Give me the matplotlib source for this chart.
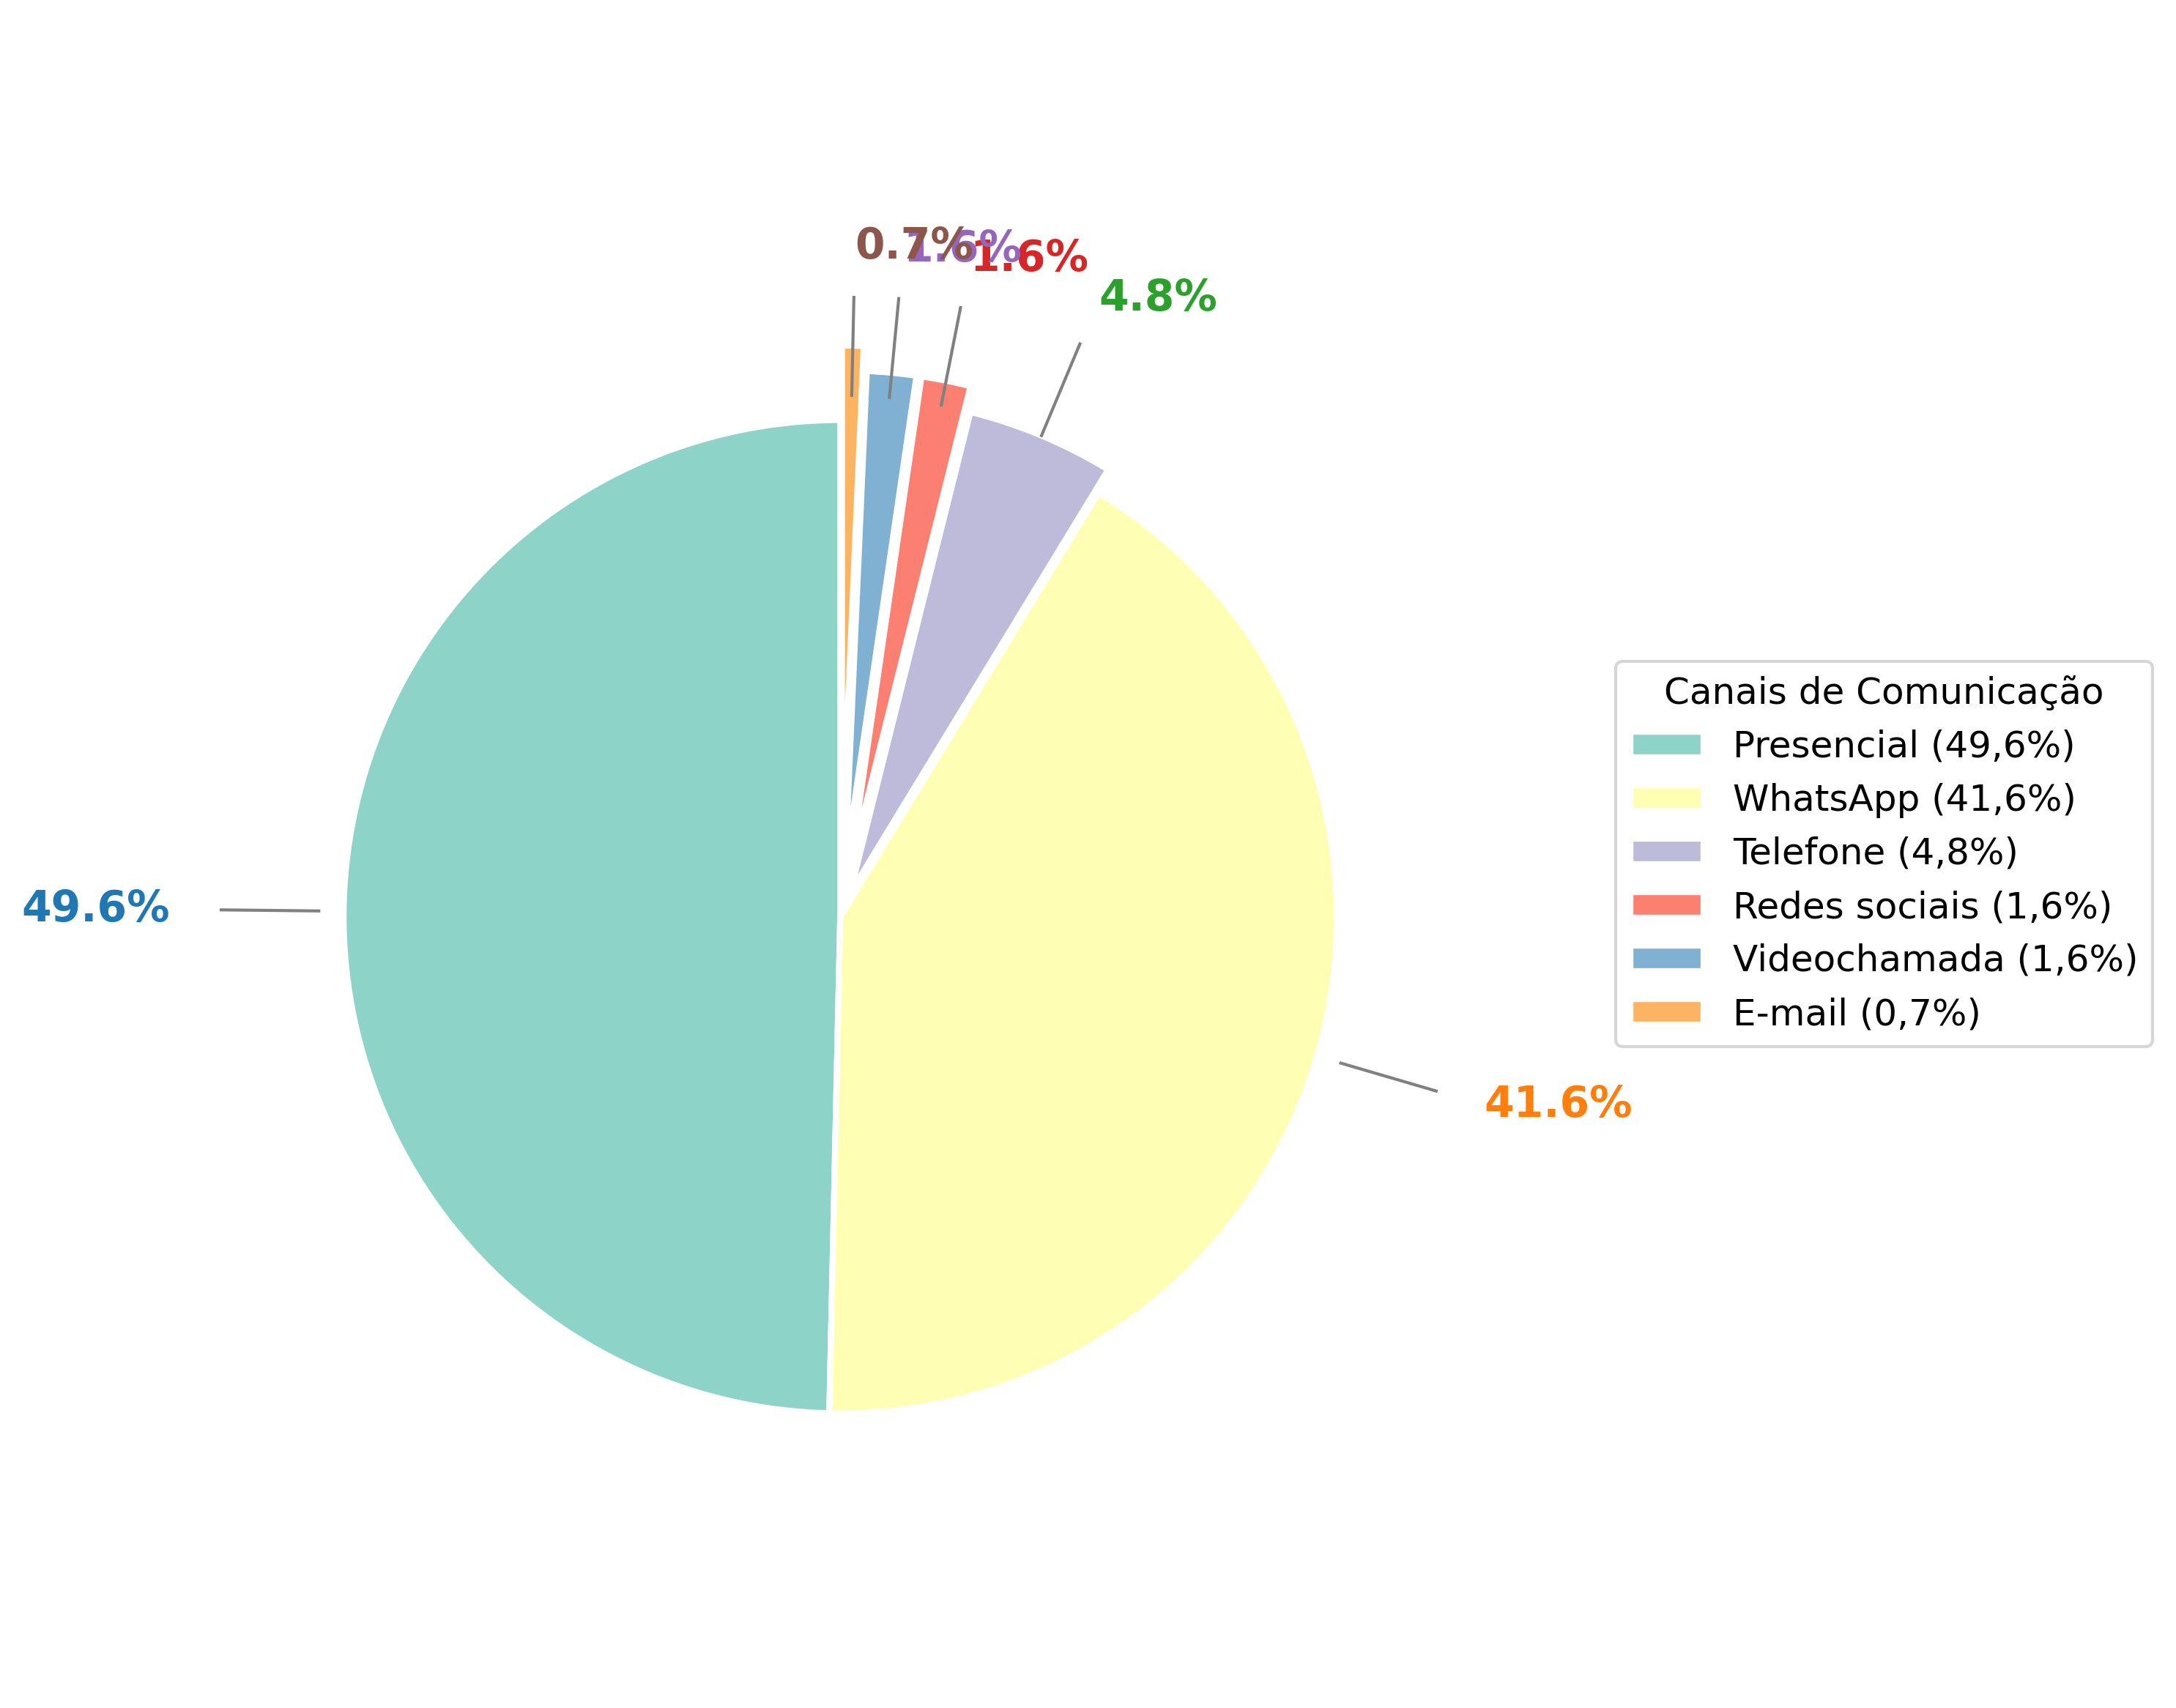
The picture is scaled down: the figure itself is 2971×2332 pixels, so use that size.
import numpy as np
import matplotlib
matplotlib.use('Agg')
import matplotlib.pyplot as plt

# Canais de comunicação usados
canais = ['Presencial', 'WhatsApp', 'Telefone', 'Redes sociais', 'Videochamada', 'E-mail']
valores = [49.6, 41.6, 4.8, 1.6, 1.6, 0.7]
afastamento = [0, 0, 0.05, 0.1, 0.1, 0.15]

cores = plt.cm.Set3(np.arange(len(canais)))
cores_texto = plt.cm.tab10(np.arange(len(canais)))

fig = plt.figure(figsize=(2971 / 300, 2332 / 300), dpi=300)
ax = fig.add_axes([0.1008, 0.0998, 0.5707, 0.727])

wedges, _ = ax.pie(valores, colors=cores, startangle=90, explode=afastamento,
                   wedgeprops=dict(edgecolor='white', linewidth=2))

total = sum(valores)
for w, v, c in zip(wedges, valores, cores_texto):
    ang = np.radians((w.theta1 + w.theta2) / 2)
    x, y = np.cos(ang), np.sin(ang)
    # linha guia e rótulo
    ax.plot([1.05 * x, 1.25 * x], [1.05 * y, 1.25 * y], color='gray', lw=1)
    ha = 'left' if x > 0 else 'right'
    ax.text(1.35 * x, 1.35 * y, f'{100 * v / total:.1f}%', ha=ha, va='center',
            fontsize=14, fontweight='bold', color=c)

rotulos = [f'{n} ({v:.1f}%)'.replace('.', ',') for n, v in zip(canais, valores)]
ax.legend(wedges, rotulos, title='Canais de Comunicação', loc='center left',
          bbox_to_anchor=(0.734, 0.5), bbox_transform=fig.transFigure,
          fontsize=12, title_fontsize=12)

fig.savefig('out.png', dpi=300)
